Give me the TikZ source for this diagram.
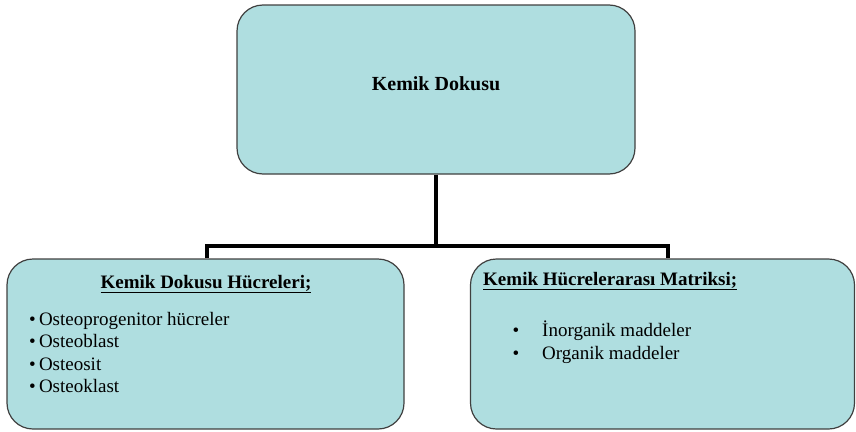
\documentclass[tikz,border=0pt]{standalone}
\usepackage{fontspec}
\setmainfont{Liberation Serif}
\usetikzlibrary{positioning,calc}
\definecolor{cbox}{RGB}{175,222,224}
\definecolor{cedge}{RGB}{64,64,64}

\begin{document}
\begin{tikzpicture}[
  x=1pt,y=-1pt,
  font=\fontsize{19}{23}\selectfont,
  box/.style={draw=cedge,line width=1.2pt,fill=cbox,rounded corners=26pt,inner sep=0pt},
  head/.style={font=\fontsize{19}{23}\selectfont\bfseries,inner sep=0pt},
  item/.style={inner sep=0pt,anchor=base west},
  dot/.style={inner sep=0pt,anchor=base},
  conn/.style={line width=4pt}
]
  \useasboundingbox (0,0) rectangle (856,431);

  \node[box,minimum width=398,minimum height=169] (kemik) at (436,89.5) {};
  \node[head,font=\fontsize{20}{24}\selectfont\bfseries] (kemikbas)
    at ($(kemik.center)+(0,-6)$) {Kemik Dokusu};

  \node[box,minimum width=397,minimum height=170] (hucre) at (205.5,344) {};
  \node[box,minimum width=384,minimum height=170] (matriks) at (662.5,344) {};

  % sol kutu
  \node[head,anchor=base] (hucrebas) at (206,288) {\underline{Kemik Dokusu Hücreleri;}};
  \node[item] (osteo1) at (29,325) {•\,Osteoprogenitor hücreler};
  \node[item] (osteo2) at (29,347.5) {•\,Osteoblast};
  \node[item] (osteo3) at (29,370) {•\,Osteosit};
  \node[item] (osteo4) at (29,392.5) {•\,Osteoklast};

  % sag kutu
  \node[head,anchor=base west] (matriksbas) at (483,285) {\underline{Kemik Hücrelerarası Matriksi;}};
  \node[dot] (nokta1) at (516,336) {•};
  \node[item] (inorg) at (542,336) {İnorganik maddeler};
  \node[dot] (nokta2) at (516,359.5) {•};
  \node[item] (org) at (542,359.5) {Organik maddeler};

  \coordinate (split) at ($(kemik.south)+(0,71)$);
  \draw[conn] (kemik.south) -- (split);
  \draw[conn] ($(hucre.north)+(1.5,0)$) |- (split) -| ($(matriks.north)+(5.5,0)$);
\end{tikzpicture}
\end{document}
